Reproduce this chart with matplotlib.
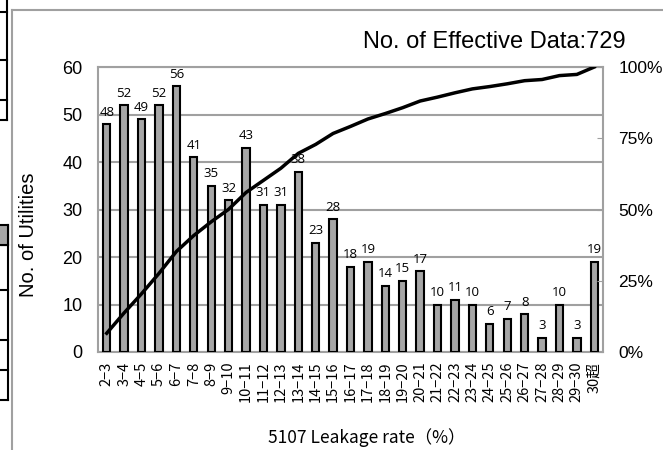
import numpy as np
import matplotlib
matplotlib.use("Agg")
import matplotlib.pyplot as plt
from matplotlib.lines import Line2D

categories = ["2−3", "3−4", "4−5", "5−6", "6−7", "7−8", "8−9", "9−10", "10−11",
              "11−12", "12−13", "13−14", "14−15", "15−16", "16−17", "17−18",
              "18−19", "19−20", "20−21", "21−22", "22−23", "23−24", "24−25",
              "25−26", "26−27", "27−28", "28−29", "29−30", "30超"]
counts = [48, 52, 49, 52, 56, 41, 35, 32, 43, 31, 31, 38, 23, 28, 18, 19,
          14, 15, 17, 10, 11, 10, 6, 7, 8, 3, 10, 3, 19]
total = 729

cum = np.cumsum(counts) / total

plt.rcParams["font.family"] = ["Liberation Sans", "DejaVu Sans"]
cjk = ["Noto Sans CJK JP", "DejaVu Sans"]

fig = plt.figure(figsize=(6.63, 4.5), dpi=100)
ax = fig.add_axes([98 / 663, 1 - 352 / 450, 505 / 663, 285 / 450])
grey = "#a0a0a0"

x = np.arange(len(categories))
ax.bar(x, counts, width=0.42, color="#a6a6a6", edgecolor="black",
       linewidth=1.5, zorder=3)
for xi, v in zip(x, counts):
    ax.annotate(str(v), (xi, v), xytext=(0, 6), textcoords="offset points",
                ha="center", va="baseline", fontsize=9.5,
                family="Open Sans", zorder=4)

ax.set_xlim(-0.5, len(categories) - 0.5)
ax.set_ylim(0, 60)
ax.set_yticks(range(0, 61, 10))
ax.yaxis.grid(True, color=grey, linewidth=1.5, zorder=0)
ax.set_axisbelow(True)
for s in ax.spines.values():
    s.set_color(grey)
    s.set_linewidth(1.5)
ax.tick_params(axis="y", length=0, labelsize=13, pad=11)
ax.tick_params(axis="x", length=0, pad=7)
ax.set_xticks(x)
ax.set_xticklabels(categories, rotation=90, fontsize=10.5, family=cjk)
ax.set_ylabel("No. of Utilities", fontsize=14.5)
ax.yaxis.set_label_coords(-0.118, (352 - 235) / 285)
ax.set_xlabel("5107 Leakage rate（%）", fontsize=12.5, family=cjk)
ax.xaxis.set_label_coords((367 - 98) / 505, -(428 - 352) / 285)

ax2 = ax.twinx()
ax2.plot(x, cum, color="black", linewidth=2.5, zorder=5)
ax2.set_ylim(0, 1)
ax2.set_yticks([0, 0.25, 0.5, 0.75, 1.0])
ax2.set_yticklabels(["0%", "25%", "50%", "75%", "100%"])
ax2.tick_params(axis="y", direction="in", length=4, color=grey,
                labelsize=12.5, pad=11)
for s in ax2.spines.values():
    s.set_visible(False)

fig.text(626 / 663, 1 - 42 / 450, "No. of Effective Data:729", ha="right",
         va="center", fontsize=17)

# outer frame of the chart area
fig.add_artist(Line2D([12 / 663, 12 / 663], [0, 1 - 10 / 450], color=grey,
                      linewidth=1.5, transform=fig.transFigure))
fig.add_artist(Line2D([12 / 663, 1], [1 - 10 / 450, 1 - 10 / 450], color=grey,
                      linewidth=1.5, transform=fig.transFigure))

# fragments of the neighbouring table on the left edge
def fline(x0, y0, x1, y1):
    fig.add_artist(Line2D([x0 / 663, x1 / 663], [1 - y0 / 450, 1 - y1 / 450],
                          color="black", linewidth=1.5,
                          transform=fig.transFigure))

fline(7, 0, 7, 120)
for yy in [12, 60, 100, 120]:
    fline(0, yy, 7, yy)
fig.add_artist(plt.Rectangle((0, 1 - 245 / 450), 8 / 663, 20 / 450,
                             color="#a6a6a6", transform=fig.transFigure))
fline(8, 225, 8, 400)
for yy in [225, 245, 290, 340, 370, 400]:
    fline(0, yy, 8, yy)

fig.savefig("out.png", dpi=100)
